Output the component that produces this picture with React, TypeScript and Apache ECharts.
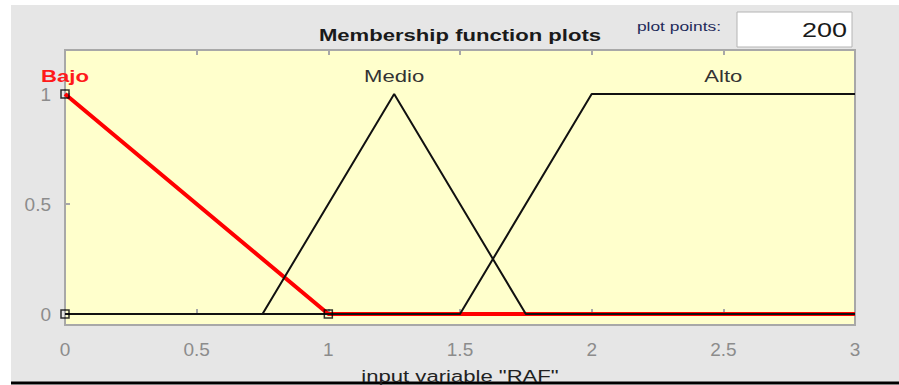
import React, { useEffect, useRef } from "react";
import * as echarts from "echarts";

// Membership functions of the input variable "RAF"
const bajo: [number, number][] = [[0, 1], [1, 0], [3, 0]];
const medio: [number, number][] = [[0, 0], [0.75, 0], [1.25, 1], [1.75, 0], [3, 0]];
const alto: [number, number][] = [[0, 0], [1.5, 0], [2, 1], [3, 1]];
// Handles of the selected function (Bajo)
const bajoHandles: [number, number][] = [[0, 0], [0, 1], [1, 0]];
// Names drawn above each function
const mfNames = ["Bajo", "Medio", "Alto"];
const mfNamePos: [number, number][] = [[0, 1.08], [1.25, 1.08], [2.5, 1.08]];
const yTicks = [0, 0.5, 1];
const plotPoints = "200";

const FONT = "'Liberation Sans', Arial, sans-serif";
const SX = 1.3; // widened GUI lettering

export default function App() {
  const ref = useRef<HTMLDivElement>(null);
  useEffect(() => {
    if (!ref.current) return;
    const chart = echarts.init(ref.current, null, { renderer: "svg" });
    const staticGraphics: any[] = [
      { type: "rect", z: -10, shape: { x: 11, y: 5, width: 888, height: 377 }, style: { fill: "#e6e6e6" } },
      { type: "line", shape: { x1: 11, y1: 383, x2: 899, y2: 383 }, style: { stroke: "#000", lineWidth: 3 } },
      {
        type: "text", x: 460, y: 35, scaleX: SX,
        style: { text: "Membership function plots", font: `bold 17px ${FONT}`, fill: "#1a1a1a", align: "center", verticalAlign: "middle" },
      },
      {
        type: "text", x: 721, y: 27, scaleX: 1.45,
        style: { text: "plot points:", font: `12px ${FONT}`, fill: "#1e2a5a", align: "right", verticalAlign: "middle" },
      },
      { type: "rect", shape: { x: 737, y: 12, width: 115, height: 35 }, style: { fill: "#ffffff", stroke: "#b4b4b4", lineWidth: 1 } },
      {
        type: "text", x: 847, y: 30, scaleX: 1.35,
        style: { text: plotPoints, font: `20px ${FONT}`, fill: "#1a1a1a", align: "right", verticalAlign: "middle" },
      },
      {
        type: "text", x: 460, y: 376, scaleX: SX,
        style: { text: 'input variable "RAF"', font: `17px ${FONT}`, fill: "#222", align: "center", verticalAlign: "middle" },
      },
    ];
    chart.setOption({
      animation: false,
      graphic: staticGraphics,
      grid: {
        left: 65, top: 50, width: 790, height: 275,
        show: true, backgroundColor: "#ffffcc", borderColor: "#a8a8a8", borderWidth: 2,
      },
      xAxis: [
        {
          type: "value", min: 0, max: 3, interval: 0.5,
          axisLine: { show: false },
          axisTick: { show: true, inside: true, length: 5, lineStyle: { color: "#a8a8a8", width: 2 } },
          axisLabel: { color: "#8c8c8c", fontSize: 19, fontFamily: FONT, margin: 15 },
          splitLine: { show: false },
        },
        {
          type: "value", position: "top", min: 0, max: 3, interval: 0.5,
          axisLine: { show: false },
          axisTick: { show: true, inside: true, length: 5, lineStyle: { color: "#a8a8a8", width: 2 } },
          axisLabel: { show: false },
          splitLine: { show: false },
        },
      ],
      yAxis: {
        type: "value", min: -0.05, max: 1.2,
        axisLine: { show: false },
        axisTick: { show: true, inside: true, length: 5, customValues: yTicks, lineStyle: { color: "#a8a8a8", width: 2 } },
        axisLabel: { color: "#8c8c8c", fontSize: 19, fontFamily: FONT, margin: 14, customValues: yTicks },
        splitLine: { show: false },
      },
      series: [
        { type: "line", data: bajo, symbol: "none", z: 2, lineStyle: { color: "#ff0000", width: 4 } },
        { type: "line", data: medio, symbol: "none", z: 3, lineStyle: { color: "#111111", width: 2 } },
        { type: "line", data: alto, symbol: "none", z: 3, lineStyle: { color: "#111111", width: 2 } },
        {
          type: "scatter", data: bajoHandles, symbol: "rect", symbolSize: 8, z: 4,
          itemStyle: { color: "rgba(0,0,0,0)", borderColor: "#000", borderWidth: 1.5 },
        },
      ],
    });
    // function names, placed through the chart's own scales
    const nameGraphics = mfNames.map((n, i) => {
      const [px, py] = chart.convertToPixel({ gridIndex: 0 }, mfNamePos[i]) as number[];
      const selected = i === 0;
      return {
        type: "text", x: px, y: py, scaleX: SX, z: 10,
        style: {
          text: n,
          font: `${selected ? "bold " : ""}17px ${FONT}`,
          fill: selected ? "#ff1a1a" : "#333333",
          align: "center", verticalAlign: "middle",
        },
      };
    });
    chart.setOption({ graphic: [...staticGraphics, ...nameGraphics] });
    return () => chart.dispose();
  }, []);
  return (
    <div
      ref={ref}
      style={{ position: "absolute", left: 0, top: 0, width: 899, height: 385, background: "#ffffff" }}
    />
  );
}
